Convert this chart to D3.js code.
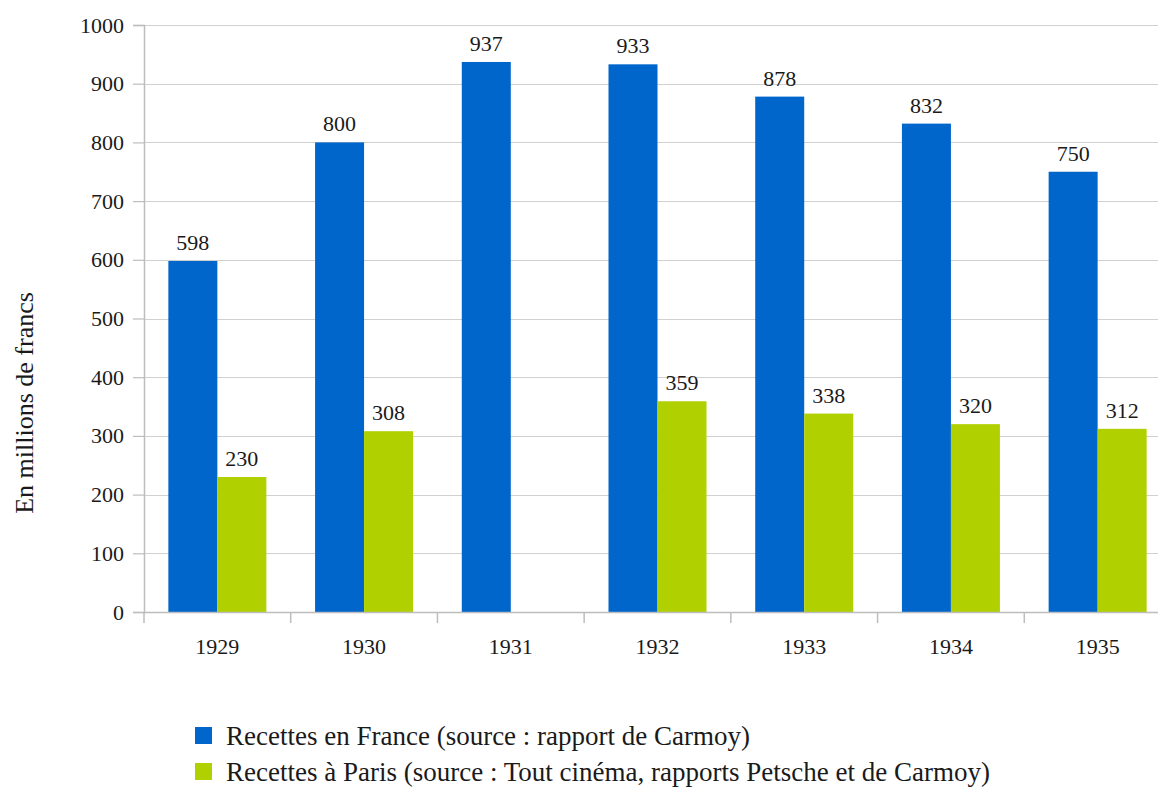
<!DOCTYPE html>
<html>
<head>
<meta charset="utf-8">
<script src="https://cdn.jsdelivr.net/npm/d3@7"></script>
</head>
<body style="margin:0;background:#fff">
<div id="fig"></div>
<script>
const years = ['1929', '1930', '1931', '1932', '1933', '1934', '1935'];
const france = [598, 800, 937, 933, 878, 832, 750];
const paris = [230, 308, null, 359, 338, 320, 312];
const yTicks = [0, 100, 200, 300, 400, 500, 600, 700, 800, 900, 1000];
const seriesNames = [
  'Recettes en France (source : rapport de Carmoy)',
  'Recettes à Paris (source : Tout cinéma, rapports Petsche et de Carmoy)'
];
const colors = ['#0066cc', '#b0d000'];

const width = 1158, height = 794;
const margin = { top: 25, left: 144, bottom: 182 };
const plotRight = 1171;
const serif = 'Liberation Serif';

const svg = d3.select('#fig').append('svg')
  .attr('width', width)
  .attr('height', height);

const x = d3.scaleBand()
  .domain(years)
  .range([margin.left, plotRight]);

const xInner = d3.scaleBand()
  .domain([0, 1])
  .range([0, x.bandwidth()])
  .paddingOuter(0.497)
  .paddingInner(0);

const y = d3.scaleLinear()
  .domain([0, 1000])
  .range([height - margin.bottom, margin.top]);

// gridlines
svg.append('g')
  .selectAll('line')
  .data(yTicks.filter(d => d > 0))
  .enter()
  .append('line')
  .attr('x1', margin.left)
  .attr('x2', width)
  .attr('y1', d => Math.round(y(d)) + 0.5)
  .attr('y2', d => Math.round(y(d)) + 0.5)
  .attr('stroke', '#d0d0d0')
  .attr('stroke-width', 1.2);

// bars
const series = [france, paris];
series.forEach((vals, s) => {
  const data = years.map((yr, i) => ({ yr, v: vals[i] })).filter(d => d.v != null);
  svg.append('g')
    .selectAll('rect')
    .data(data)
    .enter()
    .append('rect')
    .attr('x', d => x(d.yr) + xInner(s))
    .attr('width', xInner.bandwidth())
    .attr('y', d => y(d.v))
    .attr('height', d => y(0) - y(d.v))
    .attr('fill', colors[s]);

  svg.append('g')
    .selectAll('text')
    .data(data)
    .enter()
    .append('text')
    .attr('x', d => x(d.yr) + xInner(s) + xInner.bandwidth() / 2)
    .attr('y', d => y(d.v) - 11)
    .attr('text-anchor', 'middle')
    .attr('fill', '#1a1a1a')
    .style('font-family', serif)
    .style('font-size', '22px')
    .text(d => d.v);
});

// y axis
const yAxis = d3.axisLeft(y).tickValues(yTicks).tickFormat(d3.format('d')).tickSize(11).tickPadding(9);
const gy = svg.append('g')
  .attr('transform', `translate(${margin.left},0)`)
  .call(yAxis);
gy.select('.domain').attr('stroke', '#bdbdbd').attr('stroke-width', 1.5);
gy.selectAll('.tick line').attr('stroke', '#bdbdbd').attr('stroke-width', 1.2);
gy.selectAll('.tick text')
  .style('font-family', serif)
  .style('font-size', '22px')
  .attr('fill', '#1a1a1a');

// x axis
const xAxis = d3.axisBottom(x).tickSize(0).tickPadding(26);
const gx = svg.append('g')
  .attr('transform', `translate(0,${y(0)})`)
  .call(xAxis);
gx.select('.domain').attr('stroke', '#bdbdbd').attr('stroke-width', 1.5);
gx.selectAll('.tick text')
  .style('font-family', serif)
  .style('font-size', '22px')
  .attr('fill', '#1a1a1a');
gx.selectAll('.sep')
  .data(years)
  .enter()
  .append('line')
  .attr('x1', d => x(d))
  .attr('x2', d => x(d))
  .attr('y1', 0)
  .attr('y2', 11)
  .attr('stroke', '#bdbdbd')
  .attr('stroke-width', 1.5);

// y title
svg.append('text')
  .attr('transform', `translate(33,403) rotate(-90)`)
  .attr('text-anchor', 'middle')
  .attr('fill', '#1a1a1a')
  .style('font-family', serif)
  .style('font-size', '26px')
  .text('En millions de francs');

// legend
const legend = svg.append('g')
  .selectAll('g')
  .data(seriesNames)
  .enter()
  .append('g')
  .attr('transform', (d, i) => `translate(195,${727 + i * 36})`);
legend.append('rect')
  .attr('width', 17)
  .attr('height', 17)
  .attr('fill', (d, i) => colors[i]);
legend.append('text')
  .attr('x', 31)
  .attr('y', 18)
  .attr('fill', '#1a1a1a')
  .style('font-family', serif)
  .style('font-size', '27px')
  .text(d => d);
</script>
</body>
</html>
